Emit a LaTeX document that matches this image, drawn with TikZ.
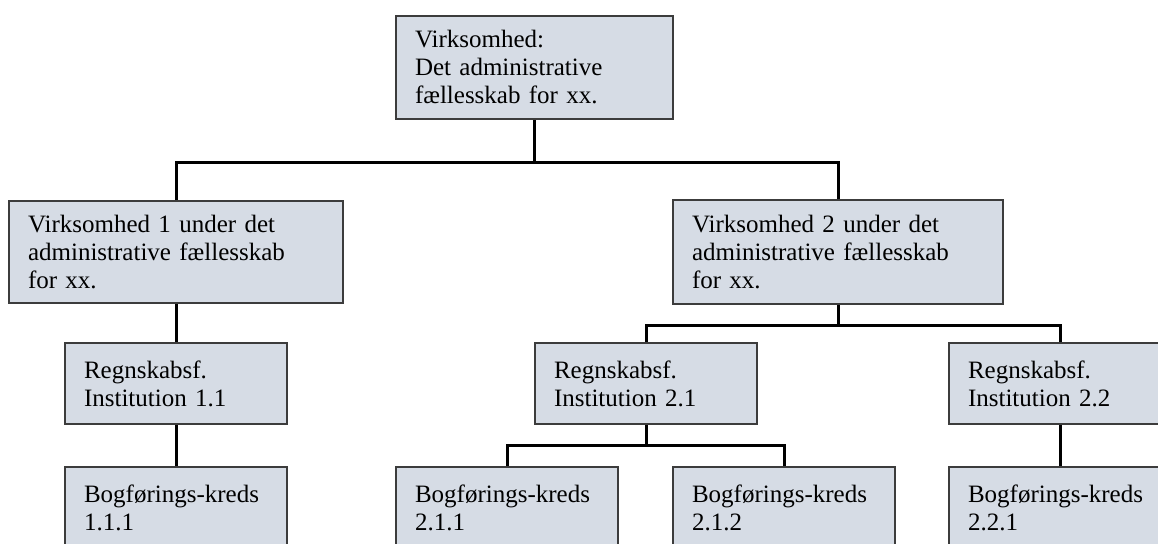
\documentclass[tikz,border=0pt]{standalone}
\usepackage{fontspec}
\setmainfont{Liberation Serif}
\definecolor{boxfill}{RGB}{214,220,229}
\definecolor{boxline}{RGB}{60,60,60}
\begin{document}
\begin{tikzpicture}[x=1pt,y=-1pt,
  box/.style={draw=boxline,line width=2pt,fill=boxfill,anchor=north west,align=left,
    inner xsep=19pt,inner ysep=0pt,font=\fontsize{25}{28}\selectfont},
  conn/.style={line width=3pt,black}]
\useasboundingbox (0,0) rectangle (1158,543);
% level 0 and 1
\node[box,text width=239pt,minimum height=103pt] (top) at (395,15) {Virksomhed:\\Det administrative\\fællesskab for xx.};
\node[box,text width=296pt,minimum height=102pt] (virk1) at (8,200) {Virksomhed 1 under det\\administrative fællesskab\\for xx.};
\node[box,text width=292pt,minimum height=104pt] (virk2) at (672,199) {Virksomhed 2 under det\\administrative fællesskab\\for xx.};
% level 2
\node[box,text width=184pt,minimum height=81pt] (reg11) at (64,342) {Regnskabsf.\\Institution 1.1};
\node[box,text width=184pt,minimum height=81pt] (reg21) at (534,342) {Regnskabsf.\\Institution 2.1};
\node[box,text width=184pt,minimum height=81pt] (reg22) at (948,342) {Regnskabsf.\\Institution 2.2};
% level 3
\node[box,text width=184pt,minimum height=81pt] (bog111) at (64,466) {Bogførings-kreds\\1.1.1};
\node[box,text width=184pt,minimum height=81pt] (bog211) at (395,466) {Bogførings-kreds\\2.1.1};
\node[box,text width=184pt,minimum height=81pt] (bog212) at (672,466) {Bogførings-kreds\\2.1.2};
\node[box,text width=184pt,minimum height=81pt] (bog221) at (948,466) {Bogførings-kreds\\2.2.1};
% connectors
\draw[conn] (top.south) -- ++(0,42) coordinate (j1);
\draw[conn] (virk1.north) |- (j1) -| (virk2.north);
\draw[conn] (virk2.south) -- ++(0,20) coordinate (j2);
\draw[conn] (reg21.north) |- (j2) -| (reg22.north);
\draw[conn] (reg21.south) -- ++(0,20) coordinate (j3);
\draw[conn] (bog211.north) |- (j3) -| (bog212.north);
\foreach \a/\b in {virk1/reg11,reg11/bog111,reg22/bog221} {\draw[conn] (\a.south) -- (\b.north);}
\end{tikzpicture}
\end{document}
